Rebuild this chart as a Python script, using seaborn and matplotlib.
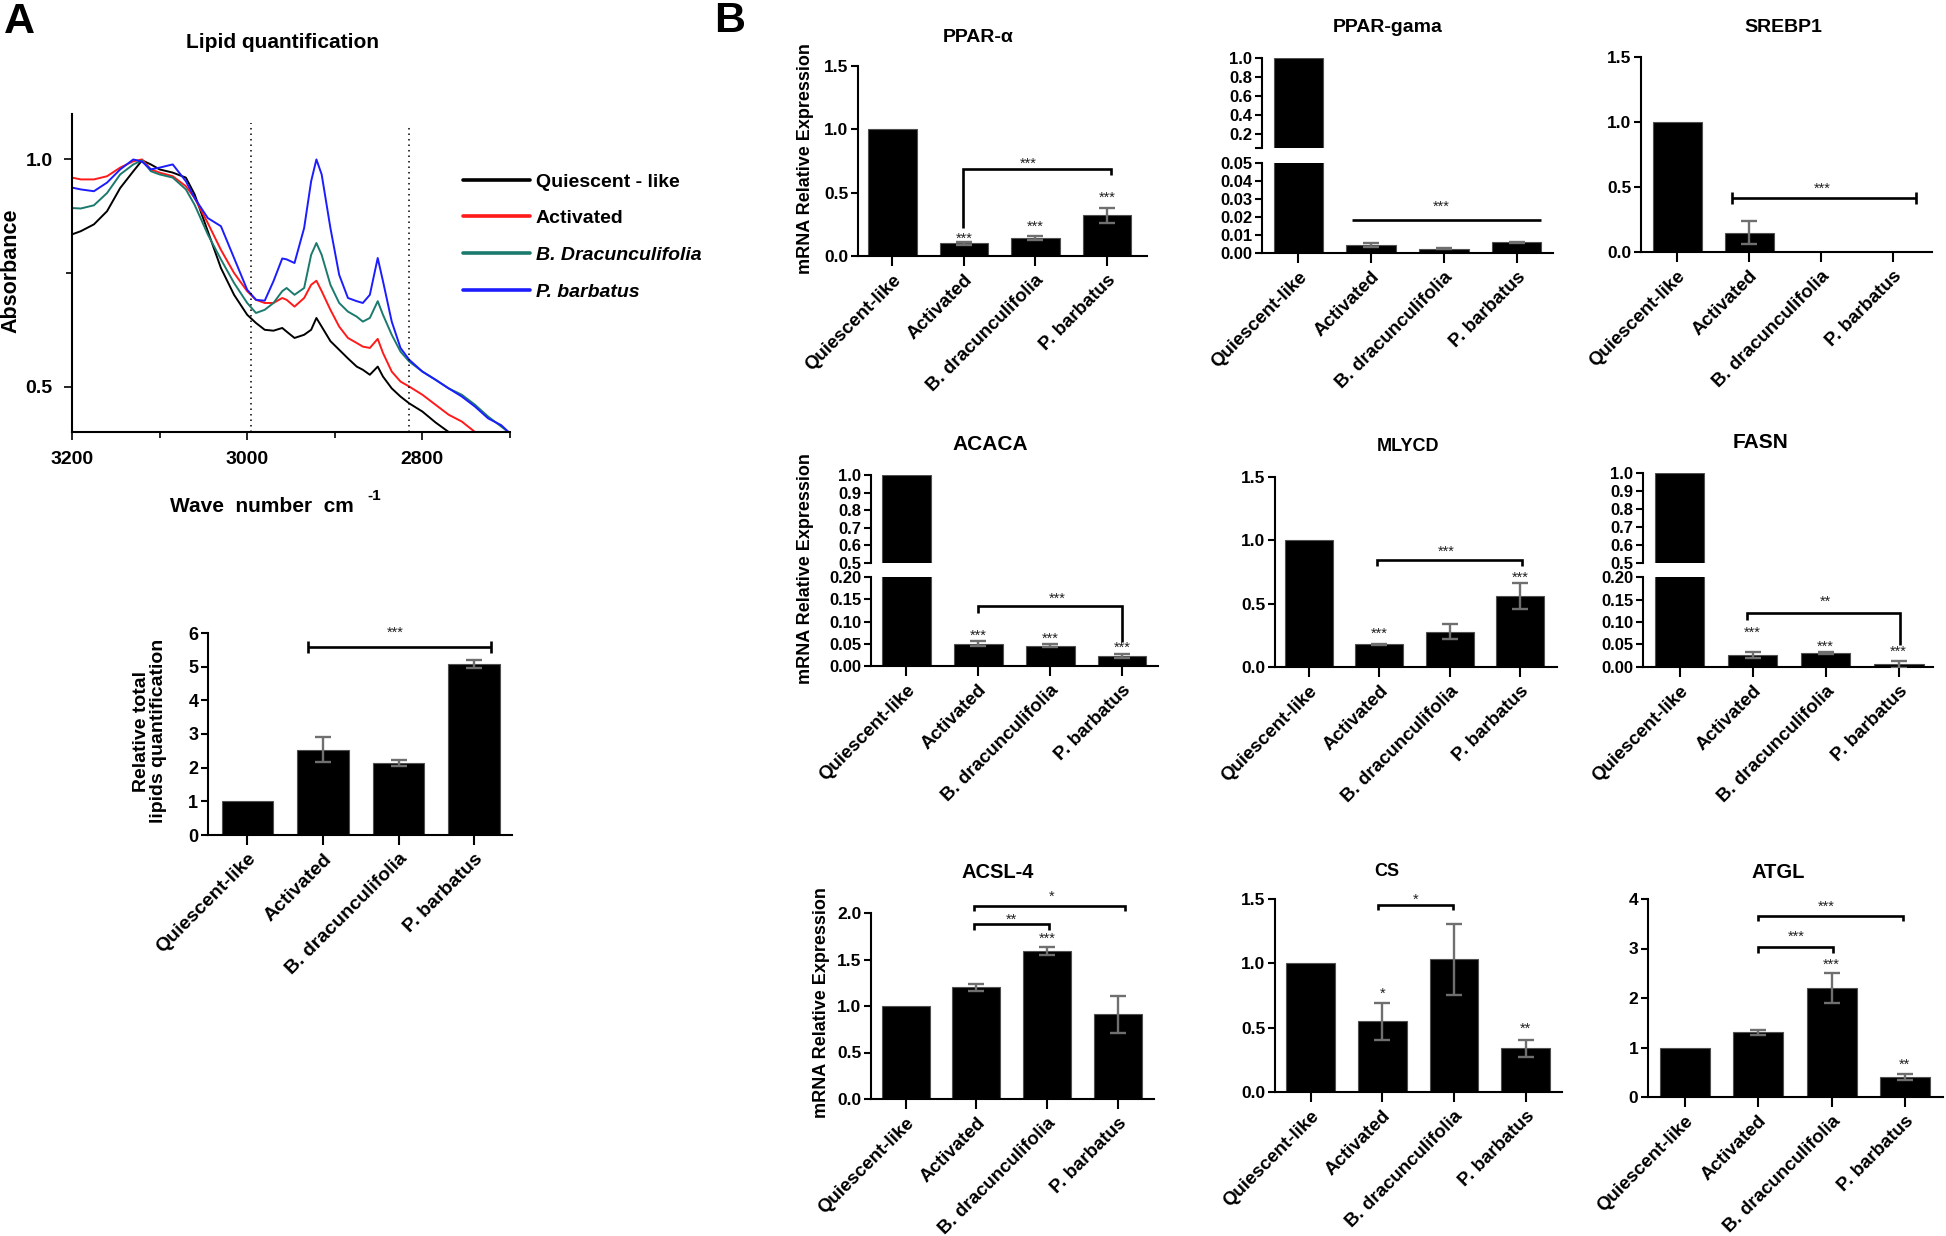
import numpy as np
import pandas as pd
import matplotlib
matplotlib.use("Agg")
import matplotlib.pyplot as plt
import seaborn as sns

# ----------------------------------------------------------------- data
categories = ["Quiescent-like", "Activated", "B. dracunculifolia", "P. barbatus"]

# FTIR spectra (panel A, top)
wavenumber = [3200, 3190, 3175, 3160, 3145, 3130, 3120, 3110, 3100, 3085,
              3070, 3060, 3045, 3030, 3015, 3000, 2990, 2980, 2970, 2960,
              2955, 2946, 2935, 2927, 2921, 2915, 2905, 2895, 2885, 2875,
              2868, 2860, 2851, 2845, 2835, 2825, 2815, 2800, 2785, 2770,
              2755, 2740, 2725, 2710, 2700]
abs_quiescent = [0.835, 0.842, 0.857, 0.886, 0.937, 0.974, 0.998, 0.989, 0.978, 0.971,
                 0.960, 0.923, 0.842, 0.761, 0.702, 0.658, 0.640, 0.625, 0.623, 0.629,
                 0.621, 0.607, 0.614, 0.625, 0.651, 0.632, 0.600, 0.581, 0.562, 0.544,
                 0.537, 0.526, 0.544, 0.522, 0.496, 0.478, 0.463, 0.445, 0.421, 0.400,
                 0.386, np.nan, np.nan, np.nan, np.nan]
abs_activated = [0.960, 0.956, 0.956, 0.963, 0.982, 0.996, 1.000, 0.978, 0.971, 0.963,
                 0.941, 0.915, 0.860, 0.801, 0.750, 0.710, 0.691, 0.684, 0.684, 0.695,
                 0.691, 0.676, 0.695, 0.724, 0.733, 0.710, 0.669, 0.632, 0.607, 0.596,
                 0.588, 0.585, 0.605, 0.574, 0.533, 0.511, 0.500, 0.482, 0.460, 0.438,
                 0.423, 0.400, 0.385, np.nan, np.nan]
abs_bdrac = [0.893, 0.892, 0.899, 0.926, 0.967, 0.989, 0.998, 0.974, 0.967, 0.960,
             0.934, 0.900, 0.835, 0.780, 0.728, 0.684, 0.662, 0.669, 0.684, 0.710,
             0.717, 0.702, 0.717, 0.790, 0.816, 0.790, 0.724, 0.684, 0.665, 0.654,
             0.643, 0.651, 0.688, 0.658, 0.614, 0.577, 0.555, 0.533, 0.515, 0.496,
             0.482, 0.460, 0.434, 0.412, 0.397]
abs_pbarb = [0.938, 0.934, 0.930, 0.949, 0.978, 1.000, 0.995, 0.978, 0.982, 0.989,
             0.952, 0.915, 0.871, 0.853, 0.783, 0.713, 0.691, 0.689, 0.732, 0.782,
             0.780, 0.772, 0.849, 0.952, 1.000, 0.967, 0.849, 0.746, 0.695, 0.688,
             0.684, 0.702, 0.783, 0.732, 0.643, 0.585, 0.559, 0.533, 0.515, 0.496,
             0.478, 0.456, 0.430, 0.415, 0.397]
spectrum_labels = ["Quiescent - like", "Activated", "B. Dracunculifolia", "P. barbatus"]
spectral_window = [2996, 2815]

# total lipids (panel A, bottom)
lipid_total = [1.0, 2.53, 2.13, 5.09]
lipid_total_sem = [0.0, 0.37, 0.09, 0.12]

# mRNA relative expression (panel B)
ppara = [1.0, 0.10, 0.14, 0.32]
ppara_sem = [0.0, 0.01, 0.015, 0.06]
pparg = [1.0, 0.0045, 0.0023, 0.0059]
pparg_sem = [0.0, 0.001, 0.0003, 0.0004]
srebp1 = [1.0, 0.15, 0.0, 0.0]
srebp1_sem = [0.0, 0.09, 0.0, 0.0]
acaca = [1.0, 0.050, 0.046, 0.023]
acaca_sem = [0.0, 0.006, 0.004, 0.004]
mlycd = [1.0, 0.18, 0.28, 0.56]
mlycd_sem = [0.0, 0.005, 0.062, 0.10]
fasn = [1.0, 0.027, 0.031, 0.006]
fasn_sem = [0.0, 0.007, 0.003, 0.008]
acsl4 = [1.0, 1.20, 1.59, 0.91]
acsl4_sem = [0.0, 0.035, 0.045, 0.195]
cs = [1.0, 0.55, 1.03, 0.34]
cs_sem = [0.0, 0.145, 0.277, 0.068]
atgl = [1.0, 1.31, 2.20, 0.40]
atgl_sem = [0.0, 0.05, 0.31, 0.06]

# ----------------------------------------------------------------- style
W, H = 1946, 1236
sns.set_theme(style="ticks", rc={
    "axes.edgecolor": "black", "axes.linewidth": 1.5,
    "xtick.color": "black", "ytick.color": "black",
    "xtick.major.width": 1.5, "ytick.major.width": 1.5,
    "text.color": "black", "axes.labelcolor": "black",
})
plt.rcParams["font.family"] = ["Liberation Sans", "DejaVu Sans"]
plt.rcParams["font.weight"] = "bold"

fig = plt.figure(figsize=(W / 100, H / 100), dpi=100)


def box(l, r, t, b):
    return fig.add_axes([l / W, 1 - b / H, (r - l) / W, (b - t) / H])


def ftext(x, y, s, **kw):
    kw.setdefault("ha", "center")
    kw.setdefault("va", "center")
    kw.setdefault("fontweight", "bold")
    fig.text(x / W, 1 - y / H, s, **kw)


ERR_COLOR = "#6f6f6f"
STAR_KW = dict(ha="center", va="center", fontsize=10.5, fontweight="normal",
               color="#222222", clip_on=False)


def draw_bars(ax, vals, sems):
    sns.barplot(x=categories, y=vals, color="black", saturation=1, width=0.68,
                errorbar=None, edgecolor="#505050", linewidth=0.8, ax=ax)
    xs = np.arange(len(vals))
    v = np.asarray(vals, float)
    e = np.asarray(sems, float)
    m = e > 0
    if m.any():
        ax.errorbar(xs[m], v[m], yerr=e[m], fmt="none", ecolor=ERR_COLOR,
                    elinewidth=1.7, capsize=5.5, capthick=1.7, zorder=3)
    ax.set_xlabel("")
    ax.set_ylabel("")


def style_y(ax, ticks, fmt, size=12.5, labels=None):
    ax.set_yticks(ticks)
    if labels is None:
        labels = [fmt.format(t) for t in ticks]
    ax.set_yticklabels(labels, fontsize=size, fontweight="bold")
    ax.tick_params(axis="y", direction="out", length=5, width=1.5, pad=2)


def style_x(ax, size=13.5):
    ax.set_xticks(range(4))
    ax.set_xticklabels(categories, rotation=45, ha="right",
                       rotation_mode="anchor", fontsize=size, fontweight="bold")
    ax.tick_params(axis="x", direction="out", length=7, width=1.5, pad=4)


def bracket(ax, x1, x2, y, l1, l2, text, tx, ty, style="down", fs=10.5):
    kw = dict(color="black", lw=1.9, clip_on=False, solid_joinstyle="miter",
              solid_capstyle="butt")
    if style == "down":
        ax.plot([x1, x1, x2, x2], [y - l1, y, y, y - l2], **kw)
    elif style == "ibeam":
        ax.plot([x1, x2], [y, y], **kw)
        ax.plot([x1, x1], [y - l1, y + l1], **kw)
        ax.plot([x2, x2], [y - l2, y + l2], **kw)
    else:
        ax.plot([x1, x2], [y, y], **kw)
    sk = dict(STAR_KW)
    sk["fontsize"] = fs
    ax.text(tx, ty, text, **sk)


def stars(ax, items):
    for x, y, s in items:
        ax.text(x, y, s, **STAR_KW)


def simple_panel(l, r, t, b, vals, sems, ylim, yticks, fmt, xlim):
    ax = box(l, r, t, b)
    draw_bars(ax, vals, sems)
    ax.set_ylim(*ylim)
    ax.set_xlim(*xlim)
    style_y(ax, yticks, fmt)
    style_x(ax)
    sns.despine(ax=ax)
    return ax


def broken_panel(l, r, t_up, b_up, t_lo, b_lo, vals, sems,
                 ylim_up, yt_up, lab_up, ylim_lo, yt_lo, fmt_lo, xlim):
    ax_u = box(l, r, t_up, b_up)
    ax_l = box(l, r, t_lo, b_lo)
    for ax in (ax_u, ax_l):
        draw_bars(ax, vals, sems)
        ax.set_xlim(*xlim)
    ax_u.set_ylim(*ylim_up)
    style_y(ax_u, yt_up, None, size=12, labels=lab_up)
    ax_u.tick_params(axis="x", bottom=False, labelbottom=False)
    for s in ("top", "right", "bottom"):
        ax_u.spines[s].set_visible(False)
    ax_l.set_ylim(*ylim_lo)
    style_y(ax_l, yt_lo, fmt_lo, size=12)
    style_x(ax_l)
    sns.despine(ax=ax_l)
    return ax_u, ax_l


# ----------------------------------------------------------------- panel A (spectra)
spec = pd.DataFrame({
    "wn": wavenumber * 4,
    "absorbance": abs_quiescent + abs_activated + abs_bdrac + abs_pbarb,
    "group": sum([[g] * len(wavenumber) for g in spectrum_labels], []),
}).dropna()
spec_colors = ["#000000", "#ff1a1a", "#1b7a6e", "#1c1cff"]

axs = box(72, 510, 114, 432)
sns.lineplot(data=spec, x="wn", y="absorbance", hue="group",
             hue_order=spectrum_labels, palette=spec_colors, estimator=None,
             sort=True, linewidth=1.4, legend=False, ax=axs)
handles = list(axs.get_lines()[:4])
axs.vlines(spectral_window, 0.4, [1.08, 1.075], colors="black",
           linestyles=(0, (1, 2.6)), linewidth=1.1)
axs.set_xlim(3200, 2700)
axs.set_ylim(0.4, 1.1)
axs.set_xticks([3200, 3000, 2800])
axs.set_xticks([3100, 2900, 2700], minor=True)
axs.set_yticks([0.5, 1.0])
axs.set_yticks([0.75], minor=True)
axs.set_xticklabels(["3200", "3000", "2800"], fontsize=14, fontweight="bold")
axs.set_yticklabels(["0.5", "1.0"], fontsize=14, fontweight="bold")
axs.tick_params(which="both", direction="out", width=1.2, color="black")
axs.tick_params(which="major", length=6)
axs.tick_params(which="minor", length=4)
axs.tick_params(axis="x", pad=8)
axs.tick_params(axis="y", pad=8)
axs.set_xlabel("")
axs.set_ylabel("")
sns.despine(ax=axs)

leg = fig.legend(handles, spectrum_labels, loc="upper left",
                 bbox_to_anchor=(463 / W, 1 - 173 / H), frameon=False,
                 handlelength=3.45, handletextpad=0.3, labelspacing=0.98,
                 borderpad=0, borderaxespad=0,
                 prop={"size": 14, "weight": "bold"})
for ln in leg.get_lines():
    ln.set_linewidth(2.6)
for i in (2, 3):
    leg.get_texts()[i].set_fontstyle("italic")

ftext(19, 22, "A", fontsize=31)
ftext(282, 43, "Lipid quantification", fontsize=15)
ftext(11, 271, "Absorbance", fontsize=15.5, rotation=90)
ftext(170, 506, "Wave  number  cm", fontsize=15, ha="left")
ftext(374, 496, "-1", fontsize=11)

# ----------------------------------------------------------------- panel A (total lipids)
axl = box(208, 512, 633, 835)
draw_bars(axl, lipid_total, lipid_total_sem)
axl.set_ylim(0, 6)
axl.set_xlim(-0.52, 3.5)
style_y(axl, list(range(7)), "{:d}", size=13)
style_x(axl, size=14)
sns.despine(ax=axl)
bracket(axl, 0.8, 3.22, 5.58, 0.17, 0.17, "***", 1.96, 6.0, style="ibeam")
ftext(150, 731, "Relative total\nlipids quantification", fontsize=14,
      rotation=90, linespacing=1.0)

# ----------------------------------------------------------------- panel B
ftext(730, 21, "B", fontsize=31)

# PPAR-alpha
ax = simple_panel(858, 1147, 66, 256, ppara, ppara_sem, (0, 1.5),
                  [0, 0.5, 1.0, 1.5], "{:.1f}", (-0.48, 3.56))
stars(ax, [(1, 0.135, "***"), (2, 0.23, "***"), (3, 0.457, "***")])
bracket(ax, 0.99, 3.05, 0.69, 0.47, 0.05, "***", 1.9, 0.73)
ftext(978, 37, "PPAR-\u03b1", fontsize=14)

# PPAR-gama (broken axis)
au, al = broken_panel(1262, 1553, 58, 148, 163, 253, pparg, pparg_sem,
                      (0.05, 1.0), [0.05, 0.2, 0.4, 0.6, 0.8, 1.0],
                      ["", "0.2", "0.4", "0.6", "0.8", "1.0"],
                      (0, 0.05), [0, 0.01, 0.02, 0.03, 0.04, 0.05], "{:.2f}",
                      (-0.5, 3.5))
bracket(al, 0.74, 3.34, 0.0185, 0, 0, "***", 1.97, 0.0256, style="flat")
ftext(1388, 28, "PPAR-gama", fontsize=14)

# SREBP1
ax = simple_panel(1641, 1932, 57, 252, srebp1, srebp1_sem, (0, 1.5),
                  [0, 0.5, 1.0, 1.5], "{:.1f}", (-0.5, 3.54))
bracket(ax, 0.76, 3.32, 0.417, 0.045, 0.045, "***", 2.01, 0.49, style="ibeam")
ftext(1783, 28, "SREBP1", fontsize=14)

# ACACA (broken axis)
au, al = broken_panel(871, 1158, 475, 563, 577, 666, acaca, acaca_sem,
                      (0.5, 1.0), [0.5, 0.6, 0.7, 0.8, 0.9, 1.0],
                      ["0.5", "0.6", "0.7", "0.8", "0.9", "1.0"],
                      (0, 0.2), [0, 0.05, 0.10, 0.15, 0.20], "{:.2f}",
                      (-0.49, 3.5))
stars(al, [(1, 0.067, "***"), (2, 0.062, "***"), (3, 0.041, "***")])
bracket(al, 1.0, 3.0, 0.135, 0.015, 0.08, "***", 2.1, 0.151)
ftext(990, 445, "ACACA", fontsize=15)

# MLYCD
ax = simple_panel(1275, 1557, 477, 667, mlycd, mlycd_sem, (0, 1.5),
                  [0, 0.5, 1.0, 1.5], "{:.1f}", (-0.48, 3.52))
stars(ax, [(1, 0.263, "***"), (3, 0.705, "***")])
bracket(ax, 0.97, 3.02, 0.842, 0.047, 0.047, "***", 1.95, 0.908)
ftext(1408, 447, "MLYCD", fontsize=13)

# FASN (broken axis)
au, al = broken_panel(1643, 1933, 473, 563, 577, 667, fasn, fasn_sem,
                      (0.5, 1.0), [0.5, 0.6, 0.7, 0.8, 0.9, 1.0],
                      ["0.5", "0.6", "0.7", "0.8", "0.9", "1.0"],
                      (0, 0.2), [0, 0.05, 0.10, 0.15, 0.20], "{:.2f}",
                      (-0.5, 3.47))
stars(al, [(1, 0.075, "***"), (2, 0.045, "***"), (3, 0.034, "***")])
bracket(al, 0.93, 3.02, 0.121, 0.017, 0.072, "**", 2.0, 0.146)
ftext(1760, 442, "FASN", fontsize=15)

# ACSL-4
ax = simple_panel(871, 1154, 913, 1099, acsl4, acsl4_sem, (0, 2.0),
                  [0, 0.5, 1.0, 1.5, 2.0], "{:.1f}", (-0.49, 3.51))
stars(ax, [(2, 1.725, "***")])
bracket(ax, 0.97, 2.02, 1.879, 0.06, 0.06, "**", 1.49, 1.93)
bracket(ax, 0.97, 3.1, 2.075, 0.055, 0.055, "*", 2.07, 2.17)
ftext(998, 872, "ACSL-4", fontsize=14.5)

# CS
ax = simple_panel(1275, 1562, 899, 1092, cs, cs_sem, (0, 1.5),
                  [0, 0.5, 1.0, 1.5], "{:.1f}", (-0.495, 3.505))
stars(ax, [(1, 0.767, "*"), (3, 0.494, "**")])
bracket(ax, 0.94, 1.99, 1.456, 0.045, 0.045, "*", 1.46, 1.495)
ftext(1387, 872, "CS", fontsize=13)

# ATGL
ax = simple_panel(1648, 1943, 899, 1097, atgl, atgl_sem, (0, 4),
                  [0, 1, 2, 3, 4], "{:d}", (-0.505, 3.52))
stars(ax, [(2, 2.67, "***"), (3, 0.66, "**")])
bracket(ax, 1.0, 2.02, 3.03, 0.13, 0.13, "***", 1.52, 3.23)
bracket(ax, 1.0, 2.97, 3.66, 0.10, 0.10, "***", 1.93, 3.85)
ftext(1778, 872, "ATGL", fontsize=14.5)

# y labels of panel B
for (x, y) in [(805, 159), (806, 569), (821, 1003)]:
    ftext(x, y, "mRNA Relative Expression", fontsize=13, rotation=90)

fig.savefig("out.png", dpi=100)
